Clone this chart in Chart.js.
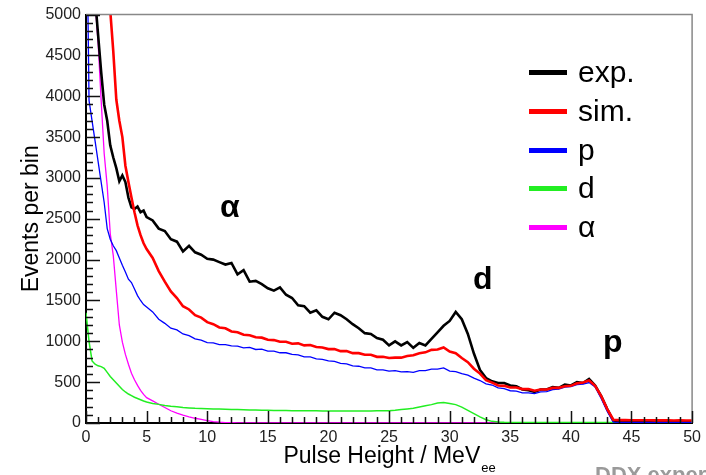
<!DOCTYPE html>
<html>
<head>
<meta charset="utf-8">
<script src="https://cdn.jsdelivr.net/npm/chart.js@4/dist/chart.umd.min.js"></script>
<style>
  html, body { margin: 0; padding: 0; background: #fff; }
  #wrap { width: 706px; height: 475px; }
</style>
</head>
<body>
<div id="wrap"><canvas id="phChart" width="706" height="475"></canvas></div>
<script>
// Pulse height bins (MeV_ee)
const energy = [
  0, 0.25, 0.5, 0.75, 1, 1.25, 1.5, 1.75, 2, 2.25, 2.5, 2.75, 3, 3.25, 3.5, 3.75, 4, 4.25, 4.5, 4.75, 5,
  5.5, 6, 6.5, 7, 7.5, 8, 8.5, 9, 9.5, 10,
  10.5, 11, 11.5, 12, 12.5, 13, 13.5, 14, 14.5, 15,
  15.5, 16, 16.5, 17, 17.5, 18, 18.5, 19, 19.5, 20,
  20.5, 21, 21.5, 22, 22.5, 23, 23.5, 24, 24.5, 25,
  25.5, 26, 26.5, 27, 27.5, 28, 28.5, 29, 29.5, 30,
  30.5, 31, 31.5, 32, 32.5, 33, 33.5, 34, 34.5, 35,
  35.5, 36, 36.5, 37, 37.5, 38, 38.5, 39, 39.5, 40,
  40.5, 41, 41.5, 42, 42.5, 43, 43.5, 44, 44.5, 45,
  45.5, 46, 46.5, 47, 47.5, 48, 48.5, 49, 49.5, 50
];

const expCounts = [
  9000, 8000, 6500, 5200, 4750, 4300, 3900, 3700, 3400, 3250, 3120, 2960, 3030, 2950, 2760, 2640, 2620, 2650, 2580, 2600, 2520,
  2480, 2380, 2350, 2250, 2220, 2100, 2170, 2090, 2060, 2010,
  2000, 1970, 1940, 1960, 1820, 1870, 1730, 1740, 1700, 1650,
  1620, 1660, 1570, 1530, 1440, 1430, 1350, 1380, 1300, 1270,
  1350, 1320, 1270, 1210, 1160, 1100, 1090, 1040, 1020, 950,
  1000, 950, 990, 920, 980, 950, 1030, 1110, 1190, 1250,
  1360, 1270, 1090, 850, 650, 550, 510, 490, 490, 460,
  450, 410, 400, 380, 410, 410, 440, 430, 470, 460,
  500, 490, 540, 460, 330, 170, 30, 25, 22, 24,
  20, 22, 20, 21, 19, 20, 18, 20, 19, 18
];

const simCounts = [
  9000, 9000, 8800, 8200, 7500, 6800, 6200, 5600, 5050, 4550, 3960, 3700, 3500, 3150, 2950, 2760, 2580, 2420, 2300, 2200, 2130,
  2020, 1860, 1730, 1610, 1530, 1430, 1390, 1320, 1290, 1235,
  1210, 1170, 1160, 1120, 1110, 1080, 1075, 1050, 1045, 1020,
  1015, 995, 995, 970, 975, 950, 955, 930, 925, 905,
  905, 880, 880, 855, 855, 835, 835, 810, 810, 795,
  800, 800, 820, 830, 855, 865, 895, 900, 925, 875,
  855, 795, 745, 665, 605, 525, 495, 460, 455, 435,
  435, 415, 415, 395, 410, 410, 430, 430, 450, 455,
  485, 495, 520, 455, 330, 170, 40, 35, 35, 34,
  33, 34, 33, 32, 33, 32, 31, 32, 31, 30
];

const protonCounts = [
  7000, 3950, 3700, 3450, 3200, 2950, 2700, 2380, 2250, 2170, 2110, 2020, 1930, 1850, 1760, 1720, 1640, 1560, 1500, 1450, 1420,
  1360, 1270, 1220, 1160, 1140, 1090, 1070, 1030, 1015, 985,
  980, 960, 960, 945, 940, 920, 925, 900, 905, 880,
  880, 860, 860, 840, 835, 810, 810, 785, 780, 760,
  755, 730, 725, 700, 695, 675, 675, 650, 650, 635,
  640, 625, 630, 620, 640, 640, 660, 660, 675, 635,
  630, 605, 585, 550, 520, 480, 465, 430, 420, 395,
  390, 370, 370, 360, 380, 385, 410, 415, 440, 445,
  470, 475, 495, 440, 300, 140, 10, 8, 8, 8,
  8, 8, 8, 8, 8, 8, 8, 8, 8, 8
];

const deuteronCounts = [
  1350, 1000, 760, 720, 700, 690, 670, 620, 570, 530, 490, 450, 410, 380, 355, 335, 315, 300, 285, 270, 258,
  240, 228, 215, 205, 198, 190, 185, 180, 178, 175,
  172, 170, 168, 166, 164, 162, 160, 158, 156, 155,
  154, 153, 152, 151, 150, 150, 149, 149, 148, 148,
  148, 148, 147, 147, 148, 148, 148, 149, 150, 151,
  155, 165, 172, 180, 195, 210, 225, 245, 250, 240,
  225, 195, 155, 115, 75, 40, 20, 12, 8, 6,
  5, 5, 5, 5, 5, 5, 5, 5, 5, 5,
  5, 5, 5, 5, 5, 5, 5, 5, 5, 5,
  5, 5, 5, 5, 5, 5, 5, 5, 5, 5
];

const alphaCounts = [
  9000, 8000, 6500, 5150, 4650, 3950, 3300, 2900, 2320, 2050, 1620, 1200, 990, 840, 720, 610, 530, 460, 400, 350, 310,
  270, 230, 190, 150, 120, 95, 75, 58, 45, 30,
  18, 10, 5, 3, 2, 2, 2, 2, 2, 2,
  2, 2, 2, 2, 2, 2, 2, 2, 2, 2,
  2, 2, 2, 2, 2, 2, 2, 2, 2, 2,
  2, 2, 2, 2, 2, 2, 2, 2, 2, 2,
  2, 2, 2, 2, 2, 2, 2, 2, 2, 2,
  2, 2, 2, 2, 2, 2, 2, 2, 2, 2,
  2, 2, 2, 2, 2, 2, 2, 2, 2, 2,
  2, 2, 2, 2, 2, 2, 2, 2, 2, 2
];

const legendLabels = ["exp.", "sim.", "p", "d", "α"];
const peakLabels = ["α", "d", "p"];
const xAxisTitle = "Pulse Height / MeV";
const xAxisSub = "ee";
const yAxisTitle = "Events per bin";

const FONT = "'Liberation Sans', Arial, sans-serif";

function toPoints(values) {
  return energy.map((e, i) => ({ x: e, y: values[i] }));
}

function series(label, values, color, width, order) {
  return {
    label: label,
    data: toPoints(values),
    borderColor: color,
    backgroundColor: color,
    borderWidth: width,
    pointRadius: 0,
    tension: 0,
    fill: false,
    order: order,
  };
}

// ROOT-style decorations: frame, inner ticks, legend, labels
const rootStyle = {
  id: "rootStyle",
  afterDraw(chart) {
    const ctx = chart.ctx;
    const area = chart.chartArea;
    const xs = chart.scales.x;
    const ys = chart.scales.y;
    ctx.save();

    // frame top/right
    ctx.strokeStyle = "#888";
    ctx.lineWidth = 1.5;
    ctx.beginPath();
    ctx.moveTo(area.left, area.top);
    ctx.lineTo(area.right, area.top);
    ctx.lineTo(area.right, area.bottom);
    ctx.stroke();

    // inner ticks
    ctx.strokeStyle = "#111";
    ctx.lineWidth = 1.5;
    ctx.beginPath();
    for (let v = 0; v <= 5000; v += 100) {
      const y = Math.round(ys.getPixelForValue(v)) + 0.5;
      const len = v % 500 === 0 ? 14 : 7;
      ctx.moveTo(area.left, y);
      ctx.lineTo(area.left + len, y);
    }
    for (let e = 0; e <= 50; e += 1) {
      const x = Math.round(xs.getPixelForValue(e)) + 0.5;
      const len = e % 5 === 0 ? 12 : 6;
      ctx.moveTo(x, area.bottom);
      ctx.lineTo(x, area.bottom - len);
    }
    ctx.stroke();

    ctx.fillStyle = "#000";

    // y title
    ctx.save();
    ctx.translate(38, (area.top + area.bottom) / 2);
    ctx.rotate(-Math.PI / 2);
    ctx.font = "23px " + FONT;
    ctx.textAlign = "center";
    ctx.textBaseline = "alphabetic";
    ctx.fillText(yAxisTitle, 0, 0);
    ctx.restore();

    // x title with subscript
    ctx.textBaseline = "alphabetic";
    ctx.textAlign = "left";
    ctx.font = "23px " + FONT;
    const w1 = ctx.measureText(xAxisTitle).width;
    ctx.font = "13px " + FONT;
    const w2 = ctx.measureText(xAxisSub).width;
    const x0 = (area.left + area.right) / 2 - (w1 + w2) / 2;
    ctx.font = "23px " + FONT;
    ctx.fillText(xAxisTitle, x0, 463);
    ctx.font = "13px " + FONT;
    ctx.fillText(xAxisSub, x0 + w1 + 1, 472);

    // legend
    const colors = chart.data.datasets.map((d) => d.borderColor);
    const rows = [82, 121, 160, 198, 237];
    ctx.font = "30px " + FONT;
    legendLabels.forEach((lab, i) => {
      ctx.fillStyle = colors[i];
      ctx.fillRect(529, rows[i] - 12, 38, 5);
      ctx.fillStyle = "#000";
      ctx.fillText(lab, 578, rows[i]);
    });

    // peak labels
    ctx.font = "bold 32px " + FONT;
    ctx.fillText(peakLabels[0], 220, 217);
    ctx.fillText(peakLabels[1], 473, 289);
    ctx.fillText(peakLabels[2], 603, 352);

    // cut-off footer text
    ctx.fillStyle = "#9a9a9a";
    ctx.font = "bold 22px " + FONT;
    ctx.fillText("DDX exper", 595, 482);

    ctx.restore();
  },
};

new Chart(document.getElementById("phChart"), {
  type: "line",
  data: {
    datasets: [
      series("exp.", expCounts, "#000000", 2.6, 2),
      series("sim.", simCounts, "#ff0000", 2.6, 0),
      series("p", protonCounts, "#0000ff", 1.3, 1),
      series("d", deuteronCounts, "#22ee22", 1.5, 3),
      series("α", alphaCounts, "#ff00ff", 1.3, 4),
    ],
  },
  options: {
    responsive: false,
    animation: false,
    devicePixelRatio: 1,
    layout: {
      padding: { top: 12, right: 13, left: 0, bottom: 0 },
    },
    plugins: {
      legend: { display: false },
      tooltip: { enabled: false },
    },
    scales: {
      x: {
        type: "linear",
        min: 0,
        max: 50,
        grid: { display: false, drawTicks: false },
        border: { display: true, color: "#000", width: 2 },
        ticks: {
          stepSize: 5,
          padding: 5,
          maxRotation: 0,
          autoSkip: false,
          color: "#222",
          font: { family: FONT, size: 16 },
          callback: (v) => String(v),
        },
        afterFit: function (scale) {
          scale.height = 52;
        },
      },
      y: {
        min: 0,
        max: 5000,
        grid: { display: false, drawTicks: false },
        border: { display: true, color: "#000", width: 2 },
        ticks: {
          stepSize: 500,
          padding: 5,
          color: "#222",
          font: { family: FONT, size: 16 },
          callback: (v) => String(v),
        },
        afterFit: function (scale) {
          scale.width = 86;
        },
      },
    },
  },
  plugins: [rootStyle],
});
</script>
</body>
</html>
